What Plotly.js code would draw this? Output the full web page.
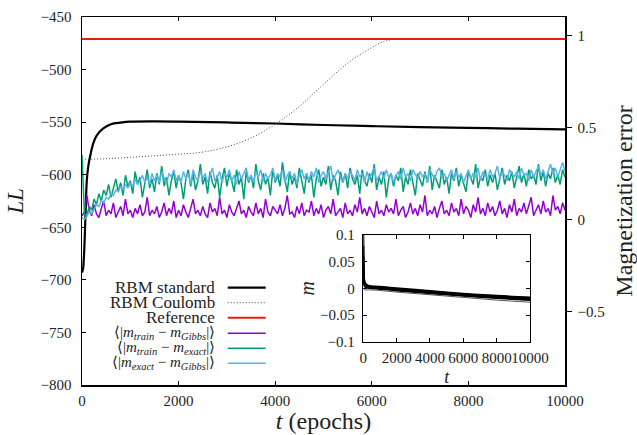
<!DOCTYPE html>
<html>
<head>
<meta charset="utf-8">
<script src="https://cdn.plot.ly/plotly-3.0.1.min.js"></script>
<style>html,body{margin:0;padding:0;background:#fff;}</style>
</head>
<body>
<div id="chart" style="width:637px;height:435px;"></div>
<script>
// ---- data ----
const tStd = [0,20,40,60,80,100,130,166,234,300,441,600,800,1000,1500,2000,3000,4000,5000,6000,7000,8000,9000,10000];
const llStandard = [-693,-690,-678,-655,-628,-605,-592,-583,-570,-563,-556,-552,-550.5,-549.6,-549.3,-549.5,-550.3,-551.3,-552.7,-553.8,-554.8,-555.5,-556.2,-556.8];

const tCoul = [0,500,1000,1500,2000,2500,3000,3500,4000,4500,5000,5500,6000,6300,6600,7000,8000,9000,10000];
const llCoulomb = [-585.5,-584.8,-583.5,-582,-580.5,-578.5,-573.5,-565,-552,-535,-514,-494,-479,-472.5,-471.2,-471,-471,-471,-471];

const tRef = [0,10000];
const llReference = [-471,-471];

const epochStep = 50;
const errTrainGibbs = [
0.02,0.04,0.13,0.05,0.02,0.08,0.03,0.01,0.06,0.10,
0.02,0.05,0.03,0.09,0.01,0.04,0.07,0.02,0.11,0.03,
0.05,0.01,0.06,0.03,0.08,0.02,0.04,0.12,0.02,0.05,
0.03,0.07,0.01,0.04,0.09,0.02,0.06,0.03,0.10,0.01,
0.05,0.02,0.08,0.04,0.01,0.06,0.11,0.03,0.05,0.02,
0.07,0.03,0.01,0.09,0.04,0.06,0.02,0.12,0.03,0.05,
0.01,0.08,0.04,0.02,0.06,0.10,0.03,0.05,0.01,0.07,
0.04,0.02,0.09,0.03,0.06,0.01,0.11,0.04,0.02,0.07,
0.05,0.03,0.08,0.02,0.06,0.13,0.03,0.04,0.01,0.07,
0.03,0.09,0.02,0.05,0.04,0.10,0.02,0.06,0.03,0.08,
0.01,0.05,0.07,0.03,0.11,0.02,0.04,0.06,0.01,0.09,
0.03,0.05,0.02,0.08,0.04,0.12,0.03,0.06,0.02,0.07,
0.04,0.01,0.10,0.03,0.05,0.02,0.08,0.04,0.06,0.03,
0.11,0.02,0.05,0.07,0.01,0.04,0.09,0.03,0.06,0.02,
0.08,0.04,0.13,0.02,0.05,0.03,0.07,0.01,0.06,0.10,
0.03,0.05,0.02,0.09,0.04,0.06,0.02,0.11,0.03,0.07,
0.05,0.01,0.08,0.04,0.12,0.03,0.06,0.02,0.09,0.04,
0.07,0.02,0.05,0.10,0.03,0.06,0.01,0.08,0.04,0.11,
0.02,0.06,0.04,0.09,0.03,0.07,0.12,0.02,0.05,0.08,
0.03,0.10,0.04,0.06,0.02,0.13,0.05,0.07,0.03,0.09,
0.05];
const errTrainExact = [
0.35,0.03,0.02,0.07,0.05,0.11,0.08,0.14,0.10,0.16,
0.13,0.19,0.12,0.17,0.22,0.15,0.20,0.13,0.24,0.18,
0.21,0.14,0.26,0.19,0.23,0.12,0.20,0.27,0.17,0.22,
0.15,0.25,0.19,0.29,0.18,0.23,0.13,0.21,0.26,0.17,
0.24,0.20,0.11,0.22,0.27,0.18,0.25,0.16,0.21,0.30,
0.19,0.23,0.14,0.26,0.20,0.17,0.24,0.12,0.22,0.28,
0.18,0.25,0.21,0.15,0.27,0.19,0.23,0.11,0.26,0.20,
0.24,0.17,0.30,0.21,0.16,0.25,0.19,0.23,0.13,0.27,
0.20,0.24,0.18,0.31,0.22,0.15,0.26,0.19,0.23,0.17,
0.28,0.21,0.14,0.25,0.20,0.24,0.12,0.22,0.27,0.18,
0.23,0.19,0.29,0.16,0.24,0.21,0.13,0.26,0.20,0.25,
0.17,0.28,0.22,0.19,0.24,0.14,0.27,0.21,0.18,0.25,
0.20,0.30,0.16,0.23,0.19,0.26,0.12,0.22,0.25,0.18,
0.24,0.21,0.28,0.15,0.23,0.19,0.27,0.20,0.13,0.25,
0.22,0.18,0.26,0.20,0.29,0.16,0.24,0.21,0.17,0.27,
0.19,0.23,0.14,0.25,0.21,0.28,0.18,0.24,0.20,0.15,
0.26,0.22,0.19,0.30,0.17,0.23,0.21,0.27,0.18,0.24,
0.20,0.25,0.16,0.22,0.28,0.19,0.24,0.21,0.26,0.17,
0.23,0.29,0.20,0.25,0.18,0.27,0.22,0.24,0.19,0.30,
0.21,0.26,0.18,0.25,0.22,0.28,0.20,0.24,0.19,0.27,
0.23];
const errExactGibbs = [
0.01,0.00,0.02,0.04,0.03,0.06,0.08,0.07,0.10,0.09,
0.12,0.11,0.14,0.13,0.16,0.15,0.18,0.16,0.19,0.17,
0.20,0.18,0.22,0.19,0.21,0.24,0.20,0.23,0.19,0.25,
0.21,0.24,0.20,0.26,0.22,0.19,0.25,0.23,0.27,0.21,
0.24,0.20,0.26,0.22,0.25,0.19,0.27,0.23,0.21,0.26,
0.22,0.25,0.20,0.24,0.28,0.21,0.23,0.26,0.20,0.25,
0.23,0.27,0.21,0.24,0.19,0.26,0.22,0.25,0.28,0.21,
0.24,0.20,0.26,0.23,0.27,0.21,0.25,0.22,0.24,0.28,
0.21,0.25,0.23,0.27,0.20,0.24,0.26,0.22,0.25,0.19,
0.24,0.27,0.22,0.25,0.21,0.26,0.23,0.28,0.20,0.24,
0.26,0.22,0.25,0.29,0.21,0.24,0.27,0.23,0.20,0.25,
0.22,0.26,0.24,0.21,0.27,0.23,0.25,0.20,0.26,0.22,
0.25,0.28,0.21,0.24,0.26,0.22,0.27,0.23,0.25,0.20,
0.24,0.26,0.22,0.28,0.23,0.25,0.21,0.27,0.24,0.22,
0.26,0.23,0.25,0.20,0.27,0.24,0.22,0.26,0.28,0.23,
0.25,0.21,0.24,0.27,0.22,0.26,0.23,0.25,0.20,0.24,
0.27,0.22,0.25,0.23,0.28,0.21,0.26,0.24,0.22,0.27,
0.23,0.25,0.29,0.22,0.26,0.24,0.21,0.27,0.25,0.23,
0.26,0.22,0.28,0.24,0.25,0.21,0.27,0.23,0.26,0.29,
0.24,0.27,0.22,0.26,0.30,0.25,0.28,0.23,0.27,0.31,
0.26];

// inset: magnetization trajectories
const tInset = [0,25,50,100,200,300,500,1000,2000,4000,6000,8000,10000];
const mLine1 = [0.100,0.035,0.018,0.010,0.007,0.005,0.004,0.003,0.000,-0.005,-0.010,-0.014,-0.017];
const mLine2 = [0.080,0.030,0.015,0.008,0.006,0.004,0.003,0.002,-0.001,-0.006,-0.011,-0.015,-0.018];
const mLine3 = [0.060,0.025,0.012,0.007,0.005,0.003,0.002,0.001,-0.002,-0.007,-0.012,-0.016,-0.020];
const mLine4 = [0.040,0.018,0.010,0.005,0.003,0.002,0.001,0.000,-0.003,-0.008,-0.013,-0.017,-0.021];
const mLine5 = [0.020,0.010,0.006,0.003,0.002,0.001,0.000,-0.001,-0.004,-0.009,-0.014,-0.018,-0.022];
const mLineGray = [0.000,-0.001,-0.002,-0.003,-0.003,-0.003,-0.003,-0.004,-0.007,-0.012,-0.017,-0.022,-0.026];

const legendLabels = [
  'RBM standard',
  'RBM Coulomb',
  'Reference',
  '⟨|<i>m</i><sub><i>train</i></sub> − <i>m</i><sub><i>Gibbs</i></sub>|⟩',
  '⟨|<i>m</i><sub><i>train</i></sub> − <i>m</i><sub><i>exact</i></sub>|⟩',
  '⟨|<i>m</i><sub><i>exact</i></sub> − <i>m</i><sub><i>Gibbs</i></sub>|⟩'
];
const legendFontSize = [17,17,17,15,15,15];
const legendColors = ['#000000','#444444','#e51e10','#9400d3','#009e73','#56b4e9'];
const legendDash = ['solid','1px,2px','solid','solid','solid','solid'];
const legendWidth = [2.2,1,2,1.5,1.5,1.5];

// ---- build ----
const tNoise = errTrainGibbs.map((_, i) => i * epochStep);

const traces = [
  {x:tStd, y:llStandard, mode:'lines', line:{color:legendColors[0], width:2.2, shape:'spline'}, xaxis:'x', yaxis:'y', name:legendLabels[0]},
  {x:tCoul, y:llCoulomb, mode:'lines', line:{color:legendColors[1], width:1, dash:'1px,2px', shape:'spline'}, xaxis:'x', yaxis:'y', name:legendLabels[1]},
  {x:tRef, y:llReference, mode:'lines', line:{color:legendColors[2], width:2}, xaxis:'x', yaxis:'y', name:legendLabels[2]},
  {x:tNoise, y:errTrainGibbs, mode:'lines', line:{color:legendColors[3], width:1.5}, xaxis:'x', yaxis:'y2', name:'p'},
  {x:tNoise, y:errTrainExact, mode:'lines', line:{color:legendColors[4], width:1.5}, xaxis:'x', yaxis:'y2', name:'g'},
  {x:tNoise, y:errExactGibbs, mode:'lines', line:{color:legendColors[5], width:1.5}, xaxis:'x', yaxis:'y2', name:'b'}
];
[mLine1,mLine2,mLine3,mLine4,mLine5].forEach(m => traces.push({x:tInset, y:m, mode:'lines', line:{color:'#000', width:2, shape:'spline'}, xaxis:'x3', yaxis:'y3'}));
traces.push({x:tInset, y:mLineGray, mode:'lines', line:{color:'#555', width:1, shape:'spline'}, xaxis:'x3', yaxis:'y3'});

const FONT = 'Liberation Serif';
const axisBase = {showgrid:false, zeroline:false, showline:true, linecolor:'#000', linewidth:1.5, tickcolor:'#000', tickwidth:1, tickangle:0, tickfont:{family:FONT, size:15, color:'#222'}};

// legend placement in plot-area fractions
const legTextX = 0.2795, legLineX0 = 0.3017, legLineX1 = 0.3803;
const legY = [0.2644,0.2236,0.1829,0.1405,0.0997,0.0590];

const annotations = legendLabels.map((txt,i) => ({xref:'paper', yref:'paper', x:legTextX, y:legY[i], text:txt, showarrow:false, xanchor:'right', yanchor:'middle', font:{family:FONT, size:legendFontSize[i], color:'#222'}}));
const shapes = legendLabels.map((_,i) => ({type:'line', xref:'paper', yref:'paper', x0:legLineX0, x1:legLineX1, y0:legY[i], y1:legY[i], line:{color:legendColors[i], width:legendWidth[i], dash:legendDash[i]}}));

const layout = {
  width:637, height:435,
  margin:{l:82, r:72, t:17, b:50},
  paper_bgcolor:'#fff', plot_bgcolor:'#fff',
  showlegend:false,
  font:{family:FONT, size:15, color:'#222'},
  xaxis: Object.assign({}, axisBase, {domain:[0,1], range:[0,10000], tick0:0, dtick:2000, tickformat:'d', ticks:'inside', ticklen:4, mirror:'ticks', ticklabelstandoff:1,
    title:{text:'<i>t</i> (epochs)', font:{family:FONT, size:24, color:'#222'}, standoff:3}}),
  yaxis: Object.assign({}, axisBase, {domain:[0,1], range:[-800,-450], tick0:-800, dtick:50, ticks:'inside', ticklen:4, ticklabelstandoff:6,
    title:{text:'<i>LL</i>', font:{family:FONT, size:23, color:'#222'}, standoff:10}}),
  yaxis2: Object.assign({}, axisBase, {overlaying:'y', side:'right', anchor:'x', range:[-0.9,1.1], tickvals:[-0.5,0,0.5,1], ticktext:['−0.5','0','0.5','1'], ticks:'outside', ticklen:5, ticklabelstandoff:3,
    title:{text:'Magnetization error', font:{family:FONT, size:24, color:'#222'}, standoff:12}}),
  xaxis3: Object.assign({}, axisBase, {domain:[0.5824,0.9275], anchor:'y3', range:[0,10000], tick0:0, dtick:2000, tickformat:'d', ticks:'inside', ticklen:4, mirror:'ticks', ticklabelstandoff:2,
    title:{text:'<i>t</i>', font:{family:FONT, size:18, color:'#222'}, standoff:5}}),
  yaxis3: Object.assign({}, axisBase, {domain:[0.1177,0.4076], anchor:'x3', range:[-0.1,0.1], tickvals:[-0.1,-0.05,0,0.05,0.1], ticktext:['−0.1','−0.05','0','0.05','0.1'], ticks:'inside', ticklen:4, mirror:'ticks', ticklabelstandoff:4,
    title:{text:'<i>m</i>', font:{family:FONT, size:20, color:'#222'}, standoff:0}}),
  annotations: annotations,
  shapes: shapes
};

Plotly.newPlot('chart', traces, layout, {staticPlot:true, displayModeBar:false});
</script>
</body>
</html>
